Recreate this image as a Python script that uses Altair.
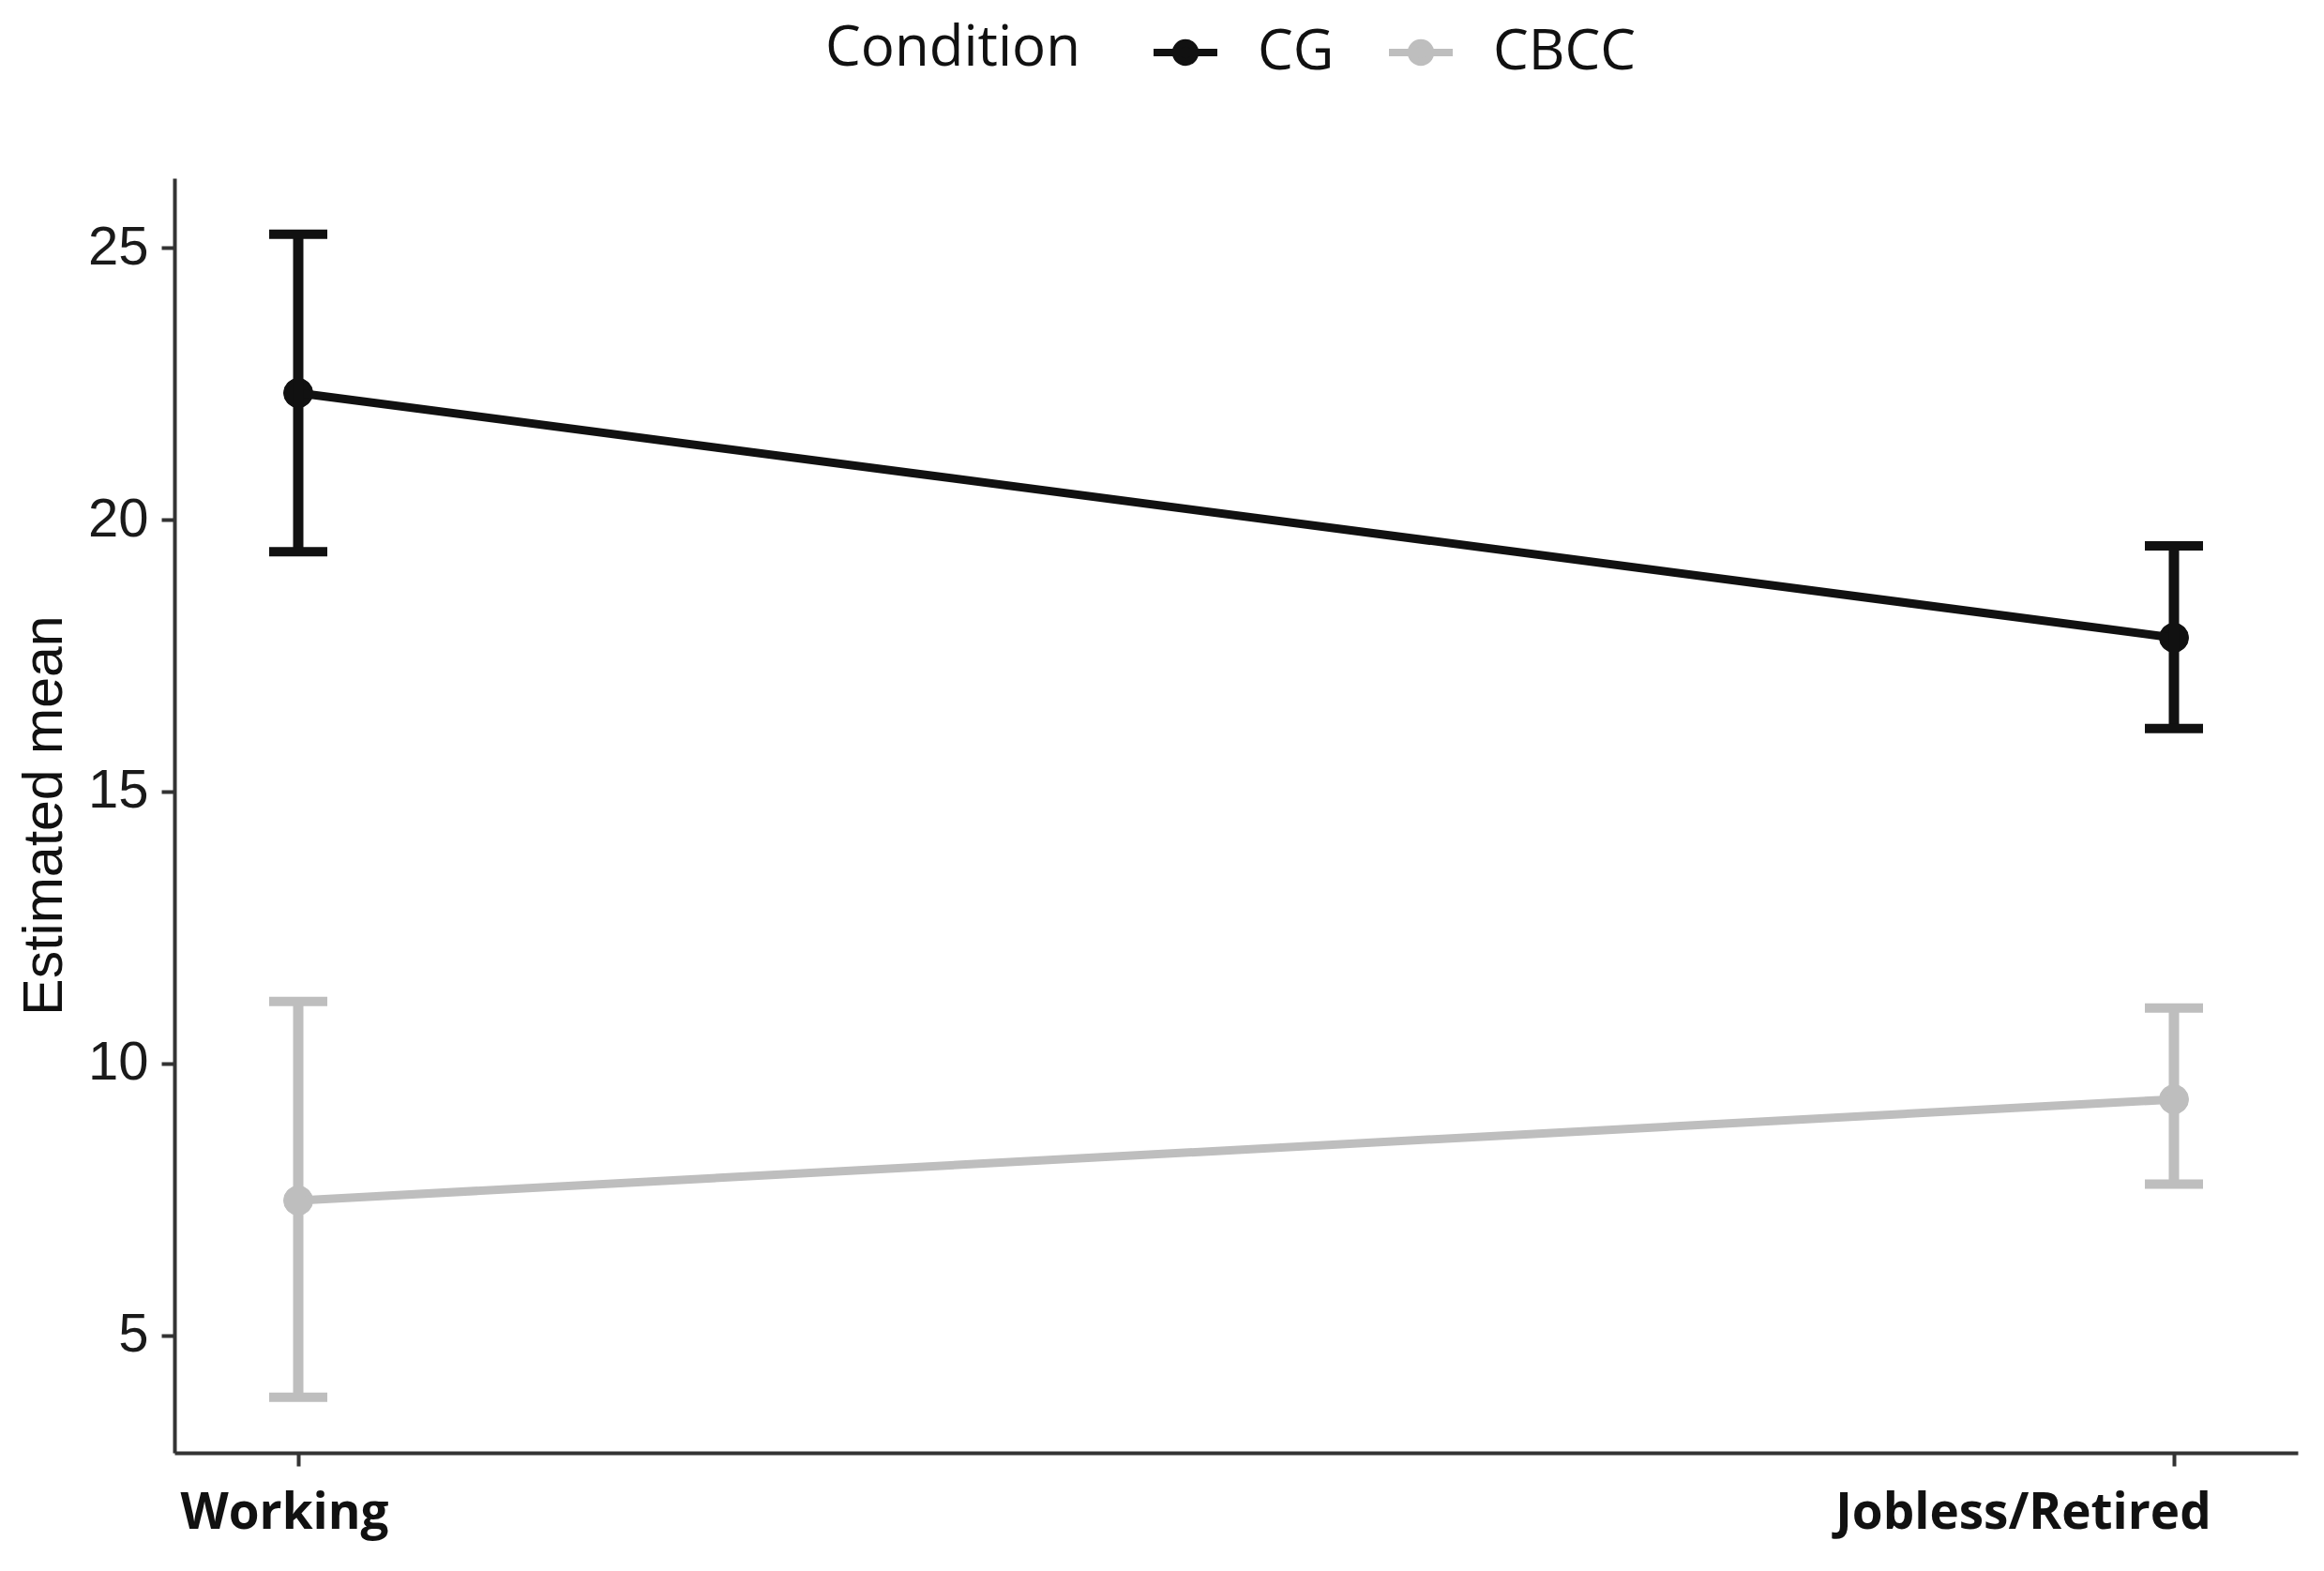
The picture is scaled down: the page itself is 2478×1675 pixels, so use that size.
import altair as alt
import pandas as pd

# ---- data ----
conditions = ["CG", "CG", "CBCC", "CBCC"]
status = ["Working", "Jobless/Retired", "Working", "Jobless/Retired"]
means = [22.33, 17.83, 7.48, 9.34]
lower = [19.41, 16.16, 3.86, 7.78]
upper = [25.25, 19.52, 11.14, 11.02]

status_order = ["Working", "Jobless/Retired"]
cond_order = ["CG", "CBCC"]
cond_colors = ["#111111", "#BEBEBE"]
y_ticks = [5, 10, 15, 20, 25]

df = pd.DataFrame({
    "Condition": conditions,
    "Status": status,
    "mean": means,
    "lower": lower,
    "upper": upper,
})

x_enc = alt.X(
    "Status:N",
    sort=status_order,
    scale=alt.Scale(type="point", padding=0.066),
    axis=alt.Axis(
        title=None,
        labelAngle=0,
        labelLimit=1000,
        labelFont="Open Sans",
        labelFontWeight="bold",
        labelFontSize=53,
        labelColor="#111111",
        labelPadding=24,
        labelOffset={"condition": {"test": "datum.value === 'Working'", "value": -15},
                     "value": -161},
        tickSize=14,
        tickWidth=4,
        tickColor="#333333",
        domainColor="#333333",
        domainWidth=4,
        grid=False,
    ),
)

y_scale = alt.Scale(domain=[2.84, 26.28], nice=False, zero=False)
y_axis = alt.Axis(
    title="Estimated mean",
    values=y_ticks,
    format="d",
    labelFont="Liberation Sans",
    labelFontSize=58,
    labelColor="#1a1a1a",
    labelPadding=14,
    tickSize=14,
    tickWidth=4,
    tickColor="#333333",
    domainColor="#333333",
    domainWidth=4,
    grid=False,
    titleFont="Liberation Sans",
    titleFontSize=59,
    titleFontWeight="normal",
    titleColor="#111111",
    titleX=-139,
    titleY=679,
    titleAngle=270,
    titleAlign="center",
    titleBaseline="middle",
    titleLimit=1000,
)

color_scale = alt.Scale(domain=cond_order, range=cond_colors)

legend_symbol = "M-1,0L1,0M0.3,0A0.3,0.3,0,1,1,-0.3,0A0.3,0.3,0,1,1,0.3,0Z"

legend = alt.Legend(
    title="Condition",
    orient="none",
    legendX=694,
    legendY=-172,
    direction="horizontal",
    titleOrient="left",
    titleAnchor="middle",
    titleBaseline="middle",
    titleLimit=1000,
    titleFont="Open Sans",
    titleFontSize=60,
    titleFontWeight="normal",
    titleColor="#111111",
    titlePadding=74,
    labelFont="Open Sans",
    labelFontSize=60,
    labelLimit=1000,
    labelColor="#111111",
    labelOffset=39,
    columnPadding=42,
    symbolType=legend_symbol,
    symbolSize=4624,
    symbolStrokeWidth=8,
    symbolOpacity=1,
)

base = alt.Chart(df)

# points first so that their (enabled) legend wins the shared colour legend
points = base.mark_point(shape="circle", filled=True, size=960, opacity=1, strokeWidth=1).encode(
    x=x_enc,
    y=alt.Y("mean:Q", scale=y_scale, axis=y_axis),
    color=alt.Color("Condition:N", scale=color_scale, legend=legend),
    stroke=alt.Stroke("Condition:N", scale=color_scale, legend=legend),
)

line = base.mark_line(strokeWidth=9).encode(
    x=x_enc,
    y=alt.Y("mean:Q", scale=y_scale),
    color=alt.Color("Condition:N", scale=color_scale, legend=None),
)

err = base.mark_rule(strokeWidth=11).encode(
    x=x_enc,
    y=alt.Y("lower:Q", scale=y_scale),
    y2="upper:Q",
    color=alt.Color("Condition:N", scale=color_scale, legend=None),
)

cap_lo = base.mark_tick(thickness=10, size=62, opacity=1).encode(
    x=x_enc,
    y=alt.Y("lower:Q", scale=y_scale),
    color=alt.Color("Condition:N", scale=color_scale, legend=None),
)
cap_hi = base.mark_tick(thickness=10, size=62, opacity=1).encode(
    x=x_enc,
    y=alt.Y("upper:Q", scale=y_scale),
    color=alt.Color("Condition:N", scale=color_scale, legend=None),
)

chart = alt.layer(points, line, err, cap_lo, cap_hi).properties(
    width=2264,
    height=1359,
    autosize=alt.AutoSizeParams(type="none"),
    padding={"left": 178, "top": 182, "right": 16, "bottom": 110},
    background="white",
).configure_view(stroke=None)

chart.save("out.html", embed_options={"renderer": "svg", "actions": False})
